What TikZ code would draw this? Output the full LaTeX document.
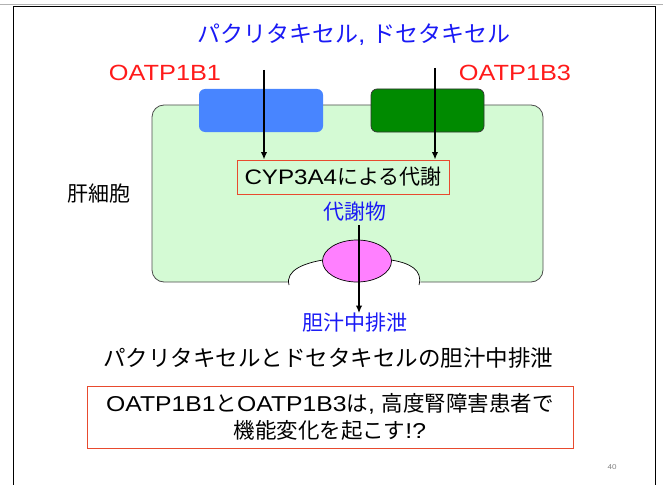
\documentclass[tikz,border=0pt]{standalone}
\usepackage{fontspec}
\setmainfont{Noto Sans CJK JP}
\newfontfamily\latf[FakeStretch=1.15]{Liberation Sans}
\newcommand\Lt[1]{{\latf #1}}
\usetikzlibrary{arrows.meta,shapes.geometric}
\definecolor{cellgreen}{HTML}{D4FAD4}
\definecolor{tblue}{HTML}{1A1AF5}
\definecolor{tred}{HTML}{FF1A1A}
\definecolor{boxblue}{HTML}{4885FF}
\definecolor{boxgreen}{HTML}{008A00}
\definecolor{pink}{HTML}{FF80FF}
\definecolor{framered}{HTML}{E84A2E}
\begin{document}
\begin{tikzpicture}[x=1pt,y=-1pt,
  arr/.style={line width=1.5pt,-{Latex[length=7.5pt,width=6.5pt]}},
  lbl/.style={inner sep=0pt,font=\fontsize{21}{25}\selectfont},
  redbox/.style={draw=framered,line width=0.9pt,inner sep=0pt}]
\useasboundingbox (0,0) rectangle (663,484);
% slide frame
\draw[gray!60,line width=0.6pt] (0,4.5) -- (663,4.5);
\draw[black,line width=0.8pt] (13,6) rectangle (655,490);
% cell
\node[draw=black!70,fill=cellgreen,rounded corners=12pt,line width=0.8pt,minimum width=391pt,minimum height=177pt] (cell) at (347.5,193.5) {};
% canaliculus
\fill[white] (288,286) .. controls (285,270) and (305,263) .. (323,260) -- (391,260) .. controls (410,263) and (423,270) .. (420,286) -- cycle;
\draw[black,line width=0.7pt] (289,285) .. controls (285,270) and (305,263) .. (323,260);
\draw[black,line width=0.7pt] (391,260) .. controls (410,263) and (423,270) .. (419,285);
% transporters
\node[fill=boxblue,rounded corners=6pt,minimum width=124pt,minimum height=43pt,inner sep=0pt] (b1) at (261,110.5) {};
\node[draw=black!80,fill=boxgreen,rounded corners=6pt,line width=0.7pt,minimum width=113pt,minimum height=43pt,inner sep=0pt] (b3) at (427.5,110.5) {};
% pink ellipse
\node[draw=black,fill=pink,ellipse,minimum width=69pt,minimum height=42pt,inner sep=0pt,line width=0.7pt] (pump) at (357,261) {};
% texts
\node[lbl,text=tblue,font=\fontsize{23}{27}\selectfont] (drug) at (354,35) {パクリタキセル\Lt{, }ドセタキセル};
\node[lbl,text=tred,font=\fontsize{22}{26}\selectfont] (o1) at (165,73) {\Lt{OATP1B1}};
\node[lbl,text=tred,font=\fontsize{22}{26}\selectfont] (o3) at (515,73) {\Lt{OATP1B3}};
\node[lbl] (liver) at (99,194) {肝細胞};
\node[redbox,fill=cellgreen,minimum width=212pt,minimum height=34pt,font=\fontsize{21}{25}\selectfont] (cyp) at (343,177) {\Lt{CYP3A4}による代謝};
\node[lbl,text=tblue] (met) at (355,212) {代謝物};
\node[lbl,text=tblue] (bile) at (355,323) {胆汁中排泄};
\node[lbl,font=\fontsize{22.5}{26}\selectfont] (title2) at (328,358) {パクリタキセルとドセタキセルの胆汁中排泄};
\node[redbox,minimum width=486pt,minimum height=62pt,align=center,font=\fontsize{21.5}{27}\selectfont] (q) at (330,417) {\Lt{OATP1B1}と\Lt{OATP1B3}は\Lt{, }高度腎障害患者で\\機能変化を起こす\Lt{!?}};
\node[inner sep=0pt,text=gray,font=\fontsize{7}{8}\selectfont] (pg) at (612,467) {\Lt{40}};
% arrows
\coordinate (s1) at (264,70);
\coordinate (s3) at (435,68);
\coordinate (m1) at (359,225);
\draw[arr] (s1) -- (s1 |- cyp.north);
\draw[arr] (s3) -- (s3 |- cyp.north);
\draw[arr] (m1) -- (m1 |- bile.north);
\end{tikzpicture}
\end{document}
